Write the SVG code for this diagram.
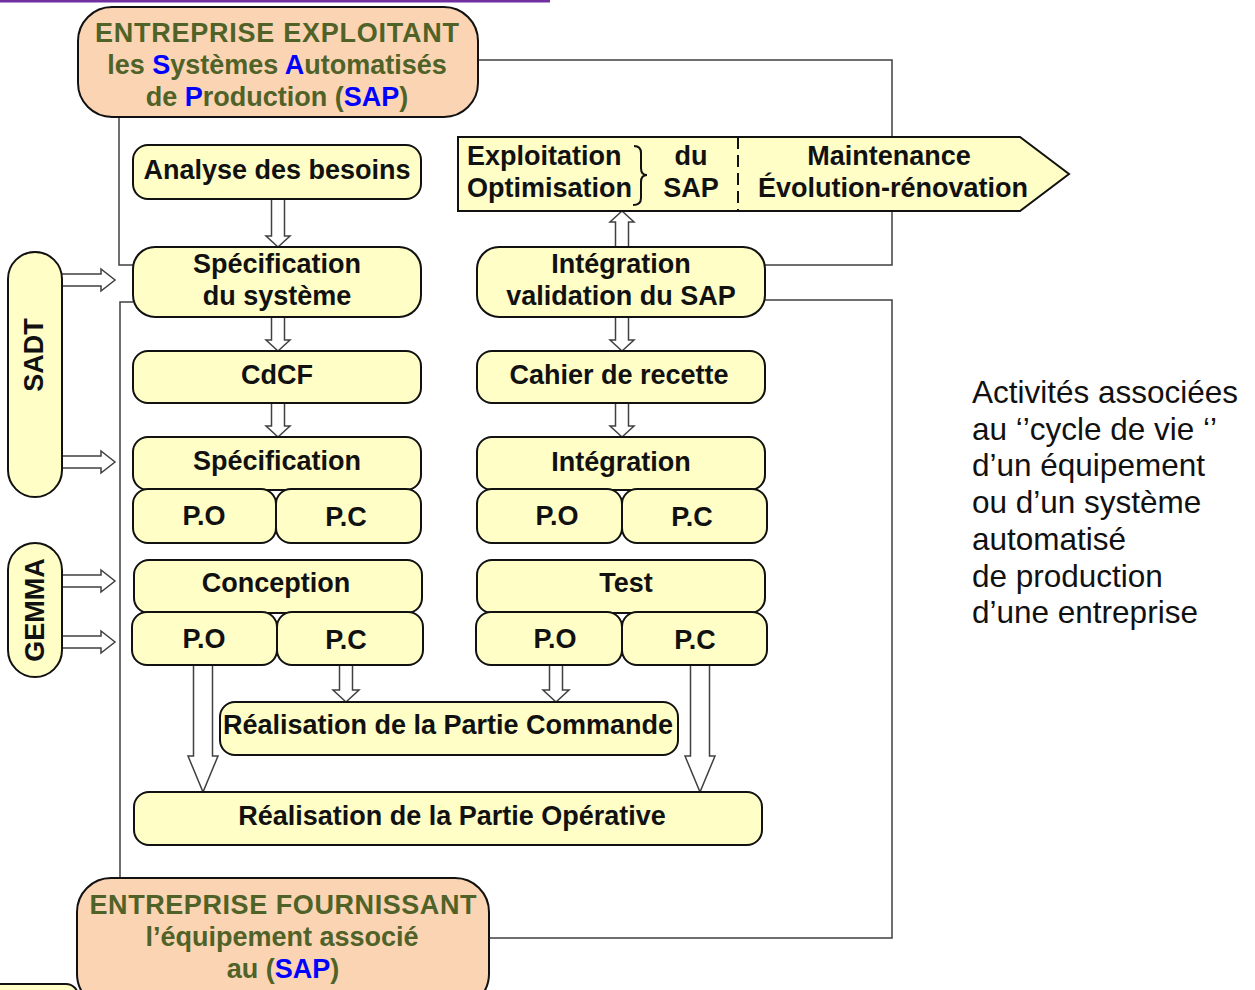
<svg xmlns="http://www.w3.org/2000/svg" width="1255" height="990" viewBox="0 0 1255 990">
<defs>
<style>
.box{fill:#fefec6;stroke:#111;stroke-width:2}
.ent{fill:#fbd4b4;stroke:#111;stroke-width:2}
.t{font-family:"Liberation Sans",Arial,sans-serif;font-weight:bold;font-size:27px;fill:#111;text-anchor:middle}
.o{font-family:"Liberation Sans",Arial,sans-serif;font-weight:bold;font-size:27px;fill:#4f6228;text-anchor:middle}
.b{fill:#0000ff}
.side{font-family:"Liberation Sans",Arial,sans-serif;font-size:31.5px;fill:#111}
.con{fill:none;stroke:#404040;stroke-width:1.5}
.ha{fill:#fff;stroke:#404040;stroke-width:1.5;stroke-linejoin:miter}
</style>
</defs>
<rect x="0" y="0" width="550" height="2.5" fill="#7030a0"/>

<g id="connectors">
<path class="con" d="M478 60 H892 V265 H765"/>
<path class="con" d="M119 117 V265 H133"/>
<path class="con" d="M133 302 H120 V880"/>
<path class="con" d="M489 938 H892 V300 H765"/>
<path class="ha" d="M271.5 199 V236 H266 L278 247 L290 236 H284.5 V199"/>
<path class="ha" d="M271.5 317 V340 H266 L278 351 L290 340 H284.5 V317"/>
<path class="ha" d="M271.5 403 V426 H266 L278 437 L290 426 H284.5 V403"/>
<path class="ha" d="M615.5 247 V222 H610 L622 211 L634 222 H628.5 V247"/>
<path class="ha" d="M615.5 317 V340 H610 L622 351 L634 340 H628.5 V317"/>
<path class="ha" d="M615.5 403 V426 H610 L622 437 L634 426 H628.5 V403"/>
<path class="ha" d="M193.5 665 V756 H188 L203 792 L218 756 H212.5 V665"/>
<path class="ha" d="M690.5 665 V756 H685 L700 792 L715 756 H709.5 V665"/>
<path class="ha" d="M339.5 665 V690 H333 L346 702 L359 690 H352.5 V665"/>
<path class="ha" d="M549.5 665 V690 H543 L556 702 L569 690 H562.5 V665"/>
<path class="ha" d="M62 274 H101 V269 L115 280 L101 291 V286 H62"/>
<path class="ha" d="M62 456 H101 V451 L115 462 L101 473 V468 H62"/>
<path class="ha" d="M62 575 H101 V570 L115 581 L101 592 V587 H62"/>
<path class="ha" d="M62 636 H101 V631 L115 642 L101 653 V648 H62"/>
</g>

<g id="entreprise-exploitant">
<rect class="ent" x="78" y="7" width="400" height="110" rx="34"/>
<text class="o" x="277" y="42" textLength="364" lengthAdjust="spacing">ENTREPRISE EXPLOITANT</text>
<text class="o" x="277" y="74">les <tspan class="b">S</tspan>ystèmes <tspan class="b">A</tspan>utomatisés</text>
<text class="o" x="277" y="106">de <tspan class="b">P</tspan>roduction (<tspan class="b">SAP</tspan>)</text>
</g>

<g id="exploitation">
<polygon points="458,137 1020,137 1069,174 1020,211 458,211" fill="#fefec6" stroke="#111" stroke-width="2"/>
<line x1="738" y1="137" x2="738" y2="211" stroke="#111" stroke-width="2" stroke-dasharray="12,6"/>
<text class="t" x="467" y="165" style="text-anchor:start">Exploitation</text>
<text class="t" x="467" y="197" style="text-anchor:start">Optimisation</text>
<path d="M634 146 Q641 146 641 153 V168 Q641 175 647 175 Q641 175 641 182 V198 Q641 205 633 205" fill="none" stroke="#111" stroke-width="2"/>
<text class="t" x="691" y="165">du</text>
<text class="t" x="691" y="197">SAP</text>
<text class="t" x="889" y="165">Maintenance</text>
<text class="t" x="893" y="197">Évolution-rénovation</text>
</g>

<g id="analyse">
<rect class="box" x="133" y="145" width="288" height="54" rx="15"/>
<text class="t" x="277" y="179">Analyse des besoins</text>
</g>
<g id="spec-systeme">
<rect class="box" x="133" y="247" width="288" height="70" rx="22"/>
<text class="t" x="277" y="273">Spécification</text>
<text class="t" x="277" y="305">du système</text>
</g>
<g id="cdcf">
<rect class="box" x="133" y="351" width="288" height="52" rx="15"/>
<text class="t" x="277" y="384">CdCF</text>
</g>
<g id="specification">
<rect class="box" x="133" y="437" width="288" height="53" rx="15"/>
<text class="t" x="277" y="470">Spécification</text>
</g>
<g id="spec-po">
<rect class="box" x="133" y="489" width="143" height="54" rx="15"/>
<text class="t" x="204" y="525">P.O</text>
</g>
<g id="spec-pc">
<rect class="box" x="276" y="489" width="145" height="54" rx="15"/>
<text class="t" x="346" y="526">P.C</text>
</g>
<g id="conception">
<rect class="box" x="134" y="560" width="288" height="53" rx="15"/>
<text class="t" x="276" y="592">Conception</text>
</g>
<g id="conc-po">
<rect class="box" x="132" y="612" width="145" height="53" rx="15"/>
<text class="t" x="204" y="648">P.O</text>
</g>
<g id="conc-pc">
<rect class="box" x="277" y="612" width="146" height="53" rx="15"/>
<text class="t" x="346" y="649">P.C</text>
</g>

<g id="integration-validation">
<rect class="box" x="477" y="247" width="288" height="70" rx="22"/>
<text class="t" x="621" y="273">Intégration</text>
<text class="t" x="621" y="305">validation du SAP</text>
</g>
<g id="cahier">
<rect class="box" x="477" y="351" width="288" height="52" rx="15"/>
<text class="t" x="619" y="384">Cahier de recette</text>
</g>
<g id="integration">
<rect class="box" x="477" y="437" width="288" height="53" rx="15"/>
<text class="t" x="621" y="471">Intégration</text>
</g>
<g id="int-po">
<rect class="box" x="477" y="489" width="145" height="54" rx="15"/>
<text class="t" x="557" y="525">P.O</text>
</g>
<g id="int-pc">
<rect class="box" x="622" y="489" width="145" height="54" rx="15"/>
<text class="t" x="692" y="526">P.C</text>
</g>
<g id="test">
<rect class="box" x="477" y="560" width="288" height="53" rx="15"/>
<text class="t" x="626" y="592">Test</text>
</g>
<g id="test-po">
<rect class="box" x="476" y="612" width="146" height="53" rx="15"/>
<text class="t" x="555" y="648">P.O</text>
</g>
<g id="test-pc">
<rect class="box" x="622" y="612" width="145" height="53" rx="15"/>
<text class="t" x="695" y="649">P.C</text>
</g>

<g id="realisation-pc">
<rect class="box" x="220" y="702" width="458" height="53" rx="15"/>
<text class="t" x="448" y="734">Réalisation de la Partie Commande</text>
</g>
<g id="realisation-po">
<rect class="box" x="134" y="792" width="628" height="53" rx="15"/>
<text class="t" x="452" y="825">Réalisation de la Partie Opérative</text>
</g>

<g id="sadt">
<rect class="box" x="8" y="252" width="54" height="245" rx="27"/>
<text class="t" transform="translate(43 355) rotate(-90)">SADT</text>
</g>
<g id="gemma">
<rect class="box" x="8" y="543" width="54" height="134" rx="27"/>
<text class="t" transform="translate(44 610) rotate(-90)">GEMMA</text>
</g>

<g id="entreprise-fournissant">
<rect class="ent" x="77" y="878" width="412" height="130" rx="34"/>
<text class="o" x="283" y="914" textLength="387" lengthAdjust="spacing">ENTREPRISE FOURNISSANT</text>
<text class="o" x="282" y="946">l’équipement associé</text>
<text class="o" x="283" y="978">au (<tspan class="b">SAP</tspan>)</text>
</g>

<g id="partial-box">
<rect class="box" x="-20" y="984" width="98" height="30" rx="12"/>
</g>

<g id="description">
<text class="side" x="972" y="403">Activités associées</text>
<text class="side" x="972" y="440">au ‘’cycle de vie ‘’</text>
<text class="side" x="972" y="476">d’un équipement</text>
<text class="side" x="972" y="513">ou d’un système</text>
<text class="side" x="972" y="550">automatisé</text>
<text class="side" x="972" y="587">de production</text>
<text class="side" x="972" y="623">d’une entreprise</text>
</g>
</svg>
